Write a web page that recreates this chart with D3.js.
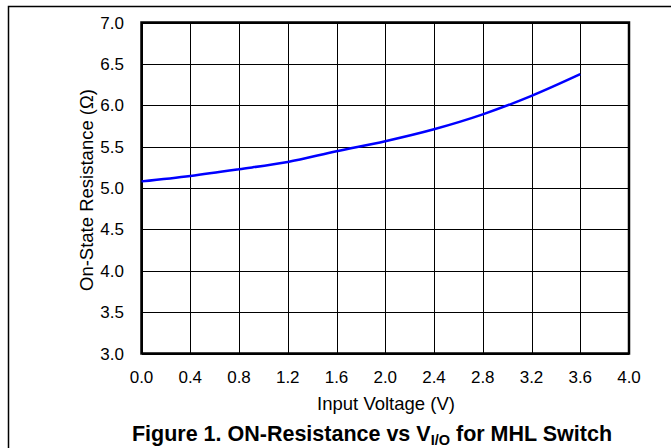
<!DOCTYPE html>
<html>
<head>
<meta charset="utf-8">
<script src="https://cdn.jsdelivr.net/npm/d3@7"></script>
<style>
  body { margin: 0; background: #fff; }
  svg { display: block; font-family: "Liberation Sans", Arial, sans-serif; }
  .grid line { stroke: #000; stroke-width: 1; shape-rendering: crispEdges; }
  .tick-label { font-size: 17px; fill: #000; }
  .axis-title { font-size: 18.5px; fill: #000; }
</style>
</head>
<body>
<div id="chart"></div>
<script>
// input voltage (V) vs on-state resistance (ohm)
var voltage    = [0.0, 0.4, 0.8, 1.2, 1.6, 2.0, 2.4, 2.8, 3.2, 3.6];
var resistance = [5.08, 5.146, 5.227, 5.315, 5.445, 5.566, 5.71, 5.89, 6.113, 6.375];

var x_ticks = [0.0, 0.4, 0.8, 1.2, 1.6, 2.0, 2.4, 2.8, 3.2, 3.6, 4.0];
var y_ticks = [3.0, 3.5, 4.0, 4.5, 5.0, 5.5, 6.0, 6.5, 7.0];

var W = 671, H = 448;
var plot = { left: 141.5, right: 629, top: 22.5, bottom: 353.5 };

var svg = d3.select("#chart").append("svg")
    .attr("width", W)
    .attr("height", H);

// outer frame (top + left edges only)
svg.append("path")
    .attr("d", "M8.5," + H + "V6.5H" + W)
    .attr("fill", "none")
    .attr("stroke", "#000")
    .attr("stroke-width", 1.5);

var x_scale = d3.scaleLinear().domain([0, 4]).range([plot.left, plot.right]);
var y_scale = d3.scaleLinear().domain([3, 7]).range([plot.bottom, plot.top]);

// grid
var grid = svg.append("g").attr("class", "grid");
grid.selectAll(".vx")
    .data(x_ticks)
    .enter().append("line")
    .attr("x1", function(d) { return Math.round(x_scale(d)) + 0.5; })
    .attr("x2", function(d) { return Math.round(x_scale(d)) + 0.5; })
    .attr("y1", plot.top)
    .attr("y2", plot.bottom);
grid.selectAll(".hy")
    .data(y_ticks)
    .enter().append("line")
    .attr("y1", function(d) { return Math.round(y_scale(d)) + 0.5; })
    .attr("y2", function(d) { return Math.round(y_scale(d)) + 0.5; })
    .attr("x1", plot.left)
    .attr("x2", plot.right);

// plot border
svg.append("rect")
    .attr("x", plot.left)
    .attr("y", plot.top)
    .attr("width", plot.right - plot.left)
    .attr("height", plot.bottom - plot.top)
    .attr("fill", "none")
    .attr("stroke", "#000")
    .attr("stroke-width", 2.5);

// tick labels
svg.selectAll(".xl")
    .data(x_ticks)
    .enter().append("text")
    .attr("class", "tick-label")
    .attr("x", function(d) { return x_scale(d); })
    .attr("y", 383)
    .attr("text-anchor", "middle")
    .text(function(d) { return d3.format(".1f")(d); });

svg.selectAll(".yl")
    .data(y_ticks)
    .enter().append("text")
    .attr("class", "tick-label")
    .attr("x", 124)
    .attr("y", function(d) { return y_scale(d) + 6; })
    .attr("text-anchor", "end")
    .text(function(d) { return d3.format(".1f")(d); });

// curve
var line = d3.line()
    .x(function(d) { return x_scale(d[0]); })
    .y(function(d) { return y_scale(d[1]); })
    .curve(d3.curveMonotoneX);

svg.append("path")
    .datum(d3.zip(voltage, resistance))
    .attr("d", line)
    .attr("fill", "none")
    .attr("stroke", "#0000ff")
    .attr("stroke-width", 2.5);

// axis titles
svg.append("text")
    .attr("class", "axis-title")
    .attr("x", 386)
    .attr("y", 410)
    .attr("text-anchor", "middle")
    .text("Input Voltage (V)");

svg.append("text")
    .attr("class", "axis-title")
    .attr("transform", "translate(93,190) rotate(-90)")
    .attr("text-anchor", "middle")
    .text("On-State Resistance (\u03A9)");

// figure caption
var cap = svg.append("text")
    .attr("x", 372)
    .attr("y", 441)
    .attr("text-anchor", "middle")
    .style("font-size", "21.5px")
    .style("font-weight", "bold");
cap.append("tspan").text("Figure 1. ON-Resistance vs V");
cap.append("tspan").attr("dy", 4).style("font-size", "14.5px").text("I/O");
cap.append("tspan").attr("dy", -4).text(" for MHL Switch");
</script>
</body>
</html>
